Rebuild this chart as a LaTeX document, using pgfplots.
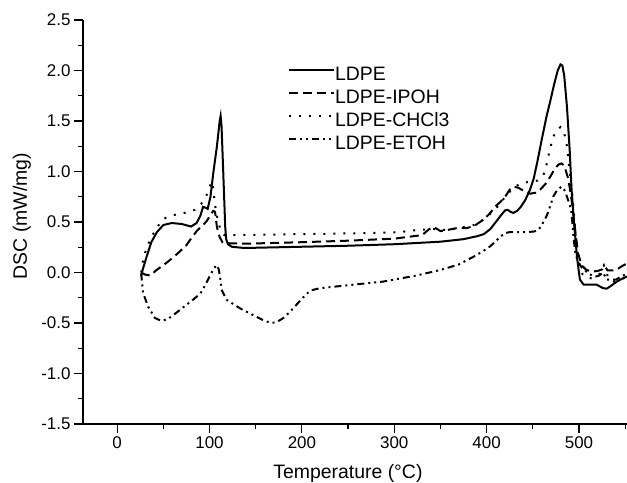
\documentclass[border=0pt]{standalone}
\usepackage{pgfplots}
\pgfplotsset{compat=1.18}
\usepackage{fontspec}
\setmainfont{Liberation Sans}
\usetikzlibrary{calc}
\begin{document}
\begin{tikzpicture}
\begin{axis}[
  scale only axis, width=544bp, height=404bp,
  xmin=-37, xmax=552, ymin=-1.5, ymax=2.5,
  axis lines*=left,
  axis line style={line width=1.3bp},
  tick align=outside,
  major tick length=9bp, minor tick length=5bp,
  every tick/.style={line width=1.2bp, black},
  xtick={0,100,...,500},
  minor xtick={50,150,250,350,450,550},
  ytick={-1.5,-1,...,2.5},
  minor ytick={-1.25,-0.75,...,2.25},
  /pgf/number format/assume math mode=true,
  yticklabel style={/pgf/number format/.cd, fixed, fixed zerofill, precision=1},
  xticklabel style={/pgf/number format/.cd, fixed, precision=0},
  ticklabel style={font=\fontsize{17}{17}\selectfont},
  xlabel={Temperature (°C)},
  ylabel={DSC (mW/mg)},
  label style={font=\fontsize{19.5}{20}\selectfont},
  xlabel style={at={(axis description cs:0.487,-0.136)}, anchor=base},
  ylabel style={at={(axis description cs:-0.103,0.515)}, anchor=base},
  legend style={draw=none, fill=none, inner sep=0pt, outer sep=0pt,
    at={(axis description cs:0.377,0.886)}, anchor=north west,
    font=\fontsize{19.5}{20}\selectfont, row sep=5bp,
    nodes={inner sep=0pt, text height=14bp, text depth=4bp}},
  legend cell align=left,
  legend image code/.code={\draw[#1] (0bp,5bp) -- (45bp,5bp);},
  every axis plot/.append style={line width=2bp, black},
]
\coordinate (sw) at (rel axis cs:0,0);
\coordinate (ne) at (rel axis cs:1,1);
\addplot[solid] coordinates {
(26,-0.03) (28,0.04) (32,0.16) (37,0.30) (43,0.40) (50,0.47) (59,0.49) (70,0.48) (80,0.455) (86,0.49) (90,0.56) (93,0.65) (96,0.64) (98,0.63) (101,0.75) (104,0.98) (108,1.25) (111,1.50) (112,1.55) (113,1.45) (114.5,1.08) (116,0.70) (117,0.45) (118,0.33) (120,0.28) (124,0.255) (135,0.245) (150,0.245) (200,0.255) (250,0.265) (300,0.28) (350,0.305) (375,0.33) (390,0.36) (397,0.38) (404,0.43) (410,0.50) (415,0.56) (420,0.615) (423,0.62) (426,0.60) (429,0.59) (433,0.61) (437,0.65) (442,0.72) (447,0.82) (451,0.93) (455,1.10) (460,1.33) (465,1.55) (469,1.70) (473,1.86) (477,2.00) (480,2.06) (482,2.05) (484,1.95) (487,1.64) (490,1.20) (492,0.82) (495,0.45) (498,0.14) (501,-0.07) (505,-0.12) (512,-0.12) (519,-0.12) (526,-0.155) (530,-0.16) (535,-0.13) (541,-0.09) (546,-0.065) (552,-0.04)
};
\addlegendentry{LDPE}
\addplot[dash pattern=on 9bp off 5bp] coordinates {
(26,0.0) (30,-0.02) (36,-0.03) (42,0.02) (48,0.06) (54,0.10) (62,0.16) (68,0.21) (75,0.27) (81,0.35) (87,0.42) (92,0.46) (97,0.51) (101,0.57) (104,0.61) (106,0.60) (108,0.45) (111,0.35) (114,0.30) (120,0.29) (138,0.285) (200,0.30) (250,0.315) (300,0.335) (330,0.37) (338,0.43) (343,0.45) (350,0.41) (357,0.42) (368,0.44) (379,0.44) (388,0.47) (396,0.52) (403,0.58) (409,0.65) (415,0.70) (420,0.75) (425,0.82) (429,0.85) (434,0.84) (440,0.81) (447,0.78) (453,0.79) (458,0.82) (464,0.88) (469,0.95) (474,1.03) (478,1.07) (481,1.08) (484,1.06) (488,0.94) (490,0.84) (492,0.72) (495.5,0.45) (499,0.19) (503,0.07) (508,0.025) (515,0.01) (520,0.015) (525,0.03) (528,0.06) (531,0.02) (536,0.02) (541,0.03) (546,0.06) (552,0.09)
};
\addlegendentry{LDPE-IPOH}
\addplot[dash pattern=on 2bp off 8bp] coordinates {
(26,0.0) (28,0.12) (31,0.22) (35,0.31) (40,0.40) (45,0.47) (50,0.53) (55,0.55) (62,0.57) (73,0.59) (84,0.62) (91,0.68) (97,0.77) (101,0.87) (103,0.90) (105,0.75) (107,0.6) (110,0.48) (113,0.40) (116,0.37) (125,0.37) (200,0.38) (270,0.39) (306,0.40) (324,0.42) (342,0.43) (357,0.42) (370,0.44) (386,0.47) (396,0.52) (405,0.59) (414,0.67) (420,0.75) (427,0.82) (436,0.88) (447,0.90) (455,0.91) (459,0.94) (463,0.99) (468,1.20) (472,1.34) (476,1.41) (480,1.44) (484,1.38) (487,1.25) (490,1.0) (493,0.75) (495,0.55) (497,0.3) (500,0.1) (504,-0.02) (510,-0.06) (517,-0.05) (523,-0.01) (527,0.07) (529,0.02) (532,-0.06) (538,-0.09) (545,-0.07) (552,-0.04)
};
\addlegendentry{LDPE-CHCl3}
\addplot[dash pattern=on 7bp off 4bp on 2bp off 4bp on 2bp off 4bp] coordinates {
(26,-0.01) (28,-0.2) (33.6,-0.34) (40.8,-0.45) (48,-0.48) (55,-0.46) (61,-0.42) (68,-0.37) (75,-0.32) (82,-0.27) (90,-0.21) (95,-0.13) (100,-0.04) (104,0.03) (107.5,0.075) (110,0.03) (111.5,-0.05) (113,-0.17) (118.5,-0.27) (133,-0.355) (151,-0.44) (160,-0.48) (167,-0.5) (173,-0.49) (180,-0.45) (187,-0.39) (194,-0.32) (201,-0.25) (209,-0.18) (215,-0.165) (220,-0.155) (252,-0.124) (288,-0.09) (324,-0.03) (350,0.025) (370,0.08) (386,0.157) (396,0.21) (404,0.26) (410,0.31) (415,0.355) (420,0.39) (425,0.40) (436,0.40) (443,0.40) (451,0.405) (456,0.42) (459,0.46) (462,0.51) (465,0.56) (469,0.66) (472,0.75) (476,0.81) (481,0.85) (484,0.82) (487,0.75) (490,0.67) (492,0.59) (494,0.35) (496,0.2) (499,0.1) (503,0.05) (509,0.0) (514,-0.03) (518,-0.04) (522,-0.03) (526,0.0) (530,-0.07) (535,-0.07) (540,-0.07) (546,-0.04) (552,-0.01)
};
\addlegendentry{LDPE-ETOH}
\end{axis}
\pgfresetboundingbox
\path[use as bounding box] ($(sw)+(-83bp,-59bp)$) rectangle ($(ne)+(0bp,20bp)$);
\end{tikzpicture}
\end{document}
